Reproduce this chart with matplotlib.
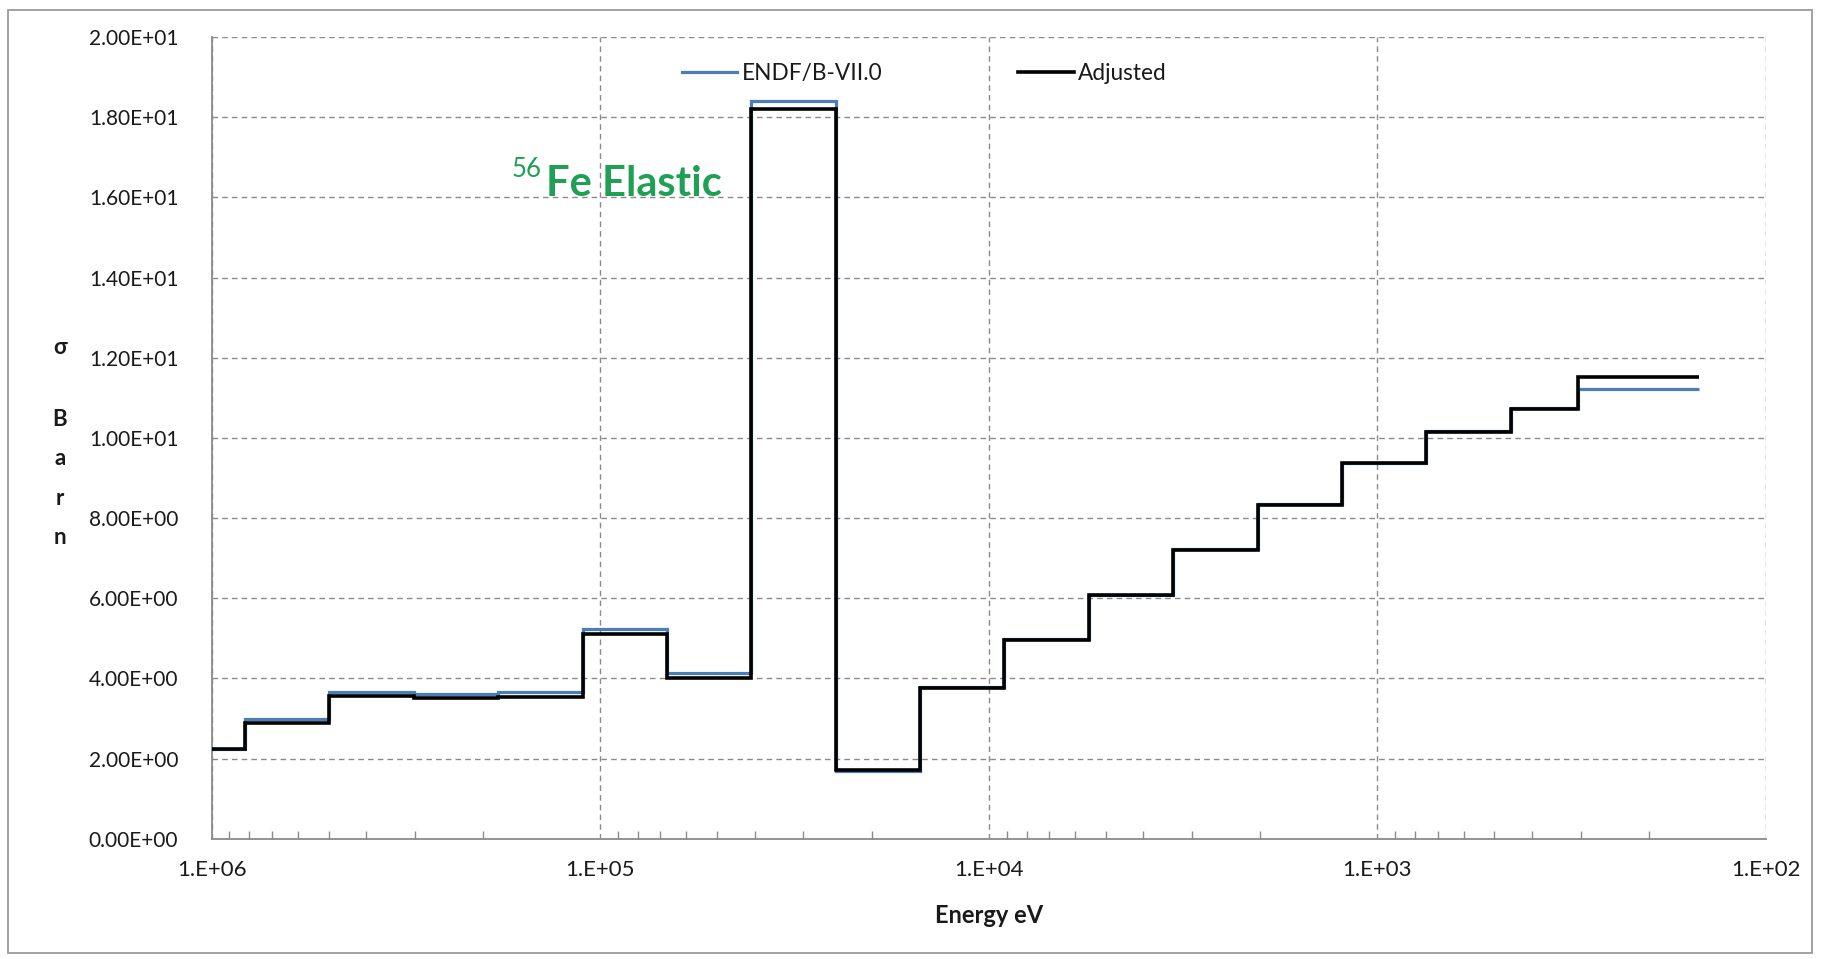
import numpy as np
import matplotlib
matplotlib.use("Agg")
import matplotlib.pyplot as plt
from matplotlib.ticker import FixedLocator, FixedFormatter, LogLocator, NullFormatter
from matplotlib.patches import Rectangle

# 56Fe elastic cross section, broad-group structure (eV, high -> low)
group_edges_ev = [1.3534e6, 8.2085e5, 4.9787e5, 3.0197e5, 1.8316e5, 1.1109e5,
                  6.7379e4, 4.0868e4, 2.4788e4, 1.5034e4, 9.1188e3, 5.5308e3,
                  3.3546e3, 2.0347e3, 1.2341e3, 7.4852e2, 4.5400e2, 3.0432e2,
                  1.4863e2]

# group cross sections (barn)
endf_b7 = [2.25, 2.98, 3.66, 3.61, 3.66, 5.24, 4.14, 18.42, 1.69,
           3.78, 4.98, 6.08, 7.22, 8.34, 9.38, 10.17, 10.74, 11.23]
adjusted = [2.25, 2.89, 3.56, 3.50, 3.54, 5.12, 4.02, 18.22, 1.71,
            3.77, 4.97, 6.07, 7.20, 8.32, 9.37, 10.16, 10.73, 11.51]

y_ticks = [0, 2, 4, 6, 8, 10, 12, 14, 16, 18, 20]
x_ticks = [1e6, 1e5, 1e4, 1e3, 1e2]
x_tick_labels = ["1.E+06", "1.E+05", "1.E+04", "1.E+03", "1.E+02"]
y_label_chars = ["σ", "B", "a", "r", "n"]

plt.rcParams["font.family"] = ["Lato", "DejaVu Sans"]

W, H = 1824, 959
fig = plt.figure(figsize=(W / 100, H / 100), dpi=100)
fig.patch.set_facecolor("white")

# outer chart frame
fig.patches.append(Rectangle((8 / W, 1 - 953 / H), (1812 - 8) / W, (953 - 10) / H,
                             transform=fig.transFigure, fill=False,
                             edgecolor="#9a9a9a", lw=1.3))

ax_l, ax_r, ax_t, ax_b = 211.7, 1766.0, 37.2, 838.7
ax = fig.add_axes([ax_l / W, 1 - ax_b / H, (ax_r - ax_l) / W, (ax_b - ax_t) / H])

blue = "#4a7ebb"
ax.stairs(endf_b7, group_edges_ev, baseline=None, color=blue, lw=2.3,
          label="ENDF/B-VII.0", zorder=3)
ax.stairs(adjusted, group_edges_ev, baseline=None, color="black", lw=2.6,
          label="Adjusted", zorder=4)

ax.set_xscale("log")
ax.set_xlim(1e6, 1e2)
ax.set_ylim(0, 20)

grid_c = "#8a8a8a"
text_c = "#1a1a1a"
ax.xaxis.set_major_locator(FixedLocator(x_ticks))
ax.xaxis.set_major_formatter(FixedFormatter(x_tick_labels))
ax.xaxis.set_minor_locator(LogLocator(base=10, subs=np.arange(2, 10)))
ax.xaxis.set_minor_formatter(NullFormatter())
ax.yaxis.set_major_locator(FixedLocator(y_ticks))
ax.yaxis.set_major_formatter(FixedFormatter([f"{v:.2E}" for v in y_ticks]))

ax.grid(True, which="major", color=grid_c, linestyle=(0, (4, 3)), linewidth=1.0)
ax.tick_params(axis="x", which="major", length=0, pad=15, labelsize=16,
               labelcolor=text_c)
ax.tick_params(axis="x", which="minor", direction="in", length=6, width=1, color=grid_c)
ax.tick_params(axis="y", which="major", length=0, pad=24, labelsize=15,
               labelcolor=text_c)

for s in ("top", "right"):
    ax.spines[s].set_visible(False)
for s in ("left", "bottom"):
    ax.spines[s].set_color(grid_c)
    ax.spines[s].set_linewidth(1.3)

ax.set_xlabel("Energy eV", fontsize=17, fontweight="bold", color=text_c)
ax.xaxis.set_label_coords(0.5, -0.082)

# vertical axis title, one letter per line
for i, ch in enumerate(y_label_chars):
    y_px = 347 if i == 0 else 419 + (i - 1) * 39.5
    fig.text(60 / W, 1 - y_px / H, ch, ha="center", va="center",
             fontsize=16, fontweight="bold", color=text_c)

leg = ax.legend(loc="center", bbox_to_anchor=(0.4585, 0.9545), ncol=2, frameon=False,
                fontsize=16.3, handlelength=2.45, handletextpad=0.2, columnspacing=6.0)
for t in leg.get_texts():
    t.set_color(text_c)

green = "#1fa055"
fig.text(512 / W, 1 - 177 / H, "56", color=green, fontsize=18.5, va="baseline", ha="left")
fig.text(546 / W, 1 - 196 / H, "Fe Elastic", color=green, fontsize=30,
         fontweight="bold", va="baseline", ha="left")

fig.savefig("out.png", dpi=100)
